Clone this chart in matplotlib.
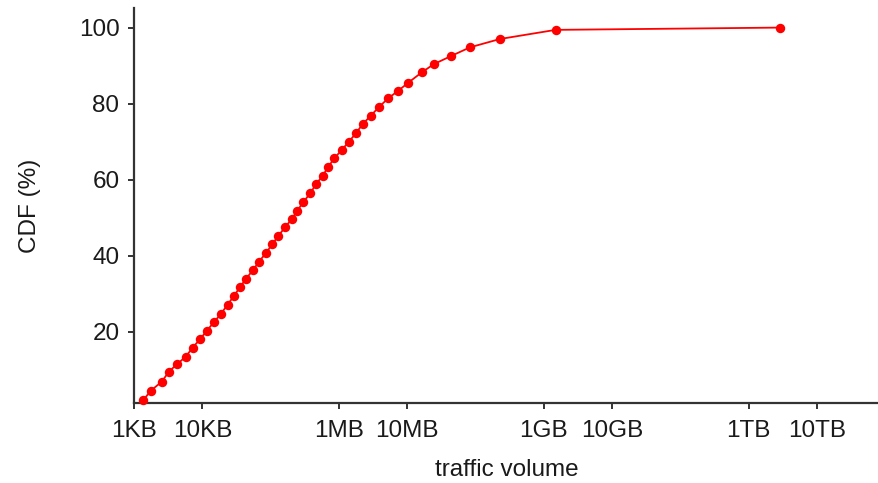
import numpy as np
import matplotlib
matplotlib.use('Agg')
import matplotlib.pyplot as plt

plt.rcParams['font.family'] = ['Liberation Sans', 'DejaVu Sans']

# traffic volume in KB, CDF in percent
volume_kb = [1.37, 1.77, 2.54, 3.25, 4.31, 5.71, 7.23, 9.25, 11.6, 14.8,
             18.8, 23.4, 29.1, 35.6, 43.6, 54.7, 67.6, 84.8, 106, 130,
             163, 204, 246, 301, 381, 462, 579, 700, 857, 1099,
             1406, 1778, 2229, 2924, 3908, 5284, 7413, 10380, 16300, 24660,
             43750, 83000, 228500, 1.49e6, 2.87e9]
cdf = [2.0, 4.5, 6.8, 9.5, 11.5, 13.4, 15.8, 18.0, 20.2, 22.5,
       24.7, 27.1, 29.4, 31.7, 33.9, 36.1, 38.4, 40.6, 43.0, 45.2,
       47.5, 49.6, 51.8, 54.1, 56.4, 58.8, 61.0, 63.4, 65.6, 67.8,
       70.0, 72.2, 74.6, 76.8, 79.2, 81.4, 83.4, 85.5, 88.2, 90.4,
       92.5, 94.8, 97.0, 99.4, 100.0]

tick_pos = [1, 10, 1e3, 1e4, 1e6, 1e7, 1e9, 1e10]
tick_labels = ['1KB', '10KB', '1MB', '10MB', '1GB', '10GB', '1TB', '10TB']
ytick_pos = [20, 40, 60, 80, 100]


def main():
    fig = plt.figure(figsize=(8.79, 4.83), dpi=100)
    ax = fig.add_axes([0.1525, 0.1663, 0.8475, 0.8167])
    ax.plot(volume_kb, cdf, color='#ff0000', lw=1.3, marker='o',
            markersize=6.8, markeredgewidth=0, clip_on=False, zorder=3)
    ax.set_xscale('log')
    ax.set_xlim(1, 10 ** 10.91)
    ax.set_ylim(1.3, 105.1)
    ax.set_xticks(tick_pos)
    ax.set_xticklabels(tick_labels)
    ax.minorticks_off()
    ax.set_yticks(ytick_pos)
    for s in ['top', 'right']:
        ax.spines[s].set_visible(False)
    for s in ['left', 'bottom']:
        ax.spines[s].set_linewidth(1.6)
        ax.spines[s].set_color('#333333')
    ax.tick_params(axis='both', which='major', labelsize=17.5, length=4.5,
                   width=1.4, color='#333333', labelcolor='#1a1a1a')
    ax.tick_params(axis='x', pad=8)
    ax.tick_params(axis='y', pad=6)
    ax.set_xlabel('traffic volume', fontsize=17.5, labelpad=12.5, color='#1a1a1a')
    ax.set_ylabel('CDF (%)', fontsize=17.5, labelpad=27, color='#1a1a1a')
    fig.savefig('out.png', dpi=100)


if __name__ == '__main__':
    main()
